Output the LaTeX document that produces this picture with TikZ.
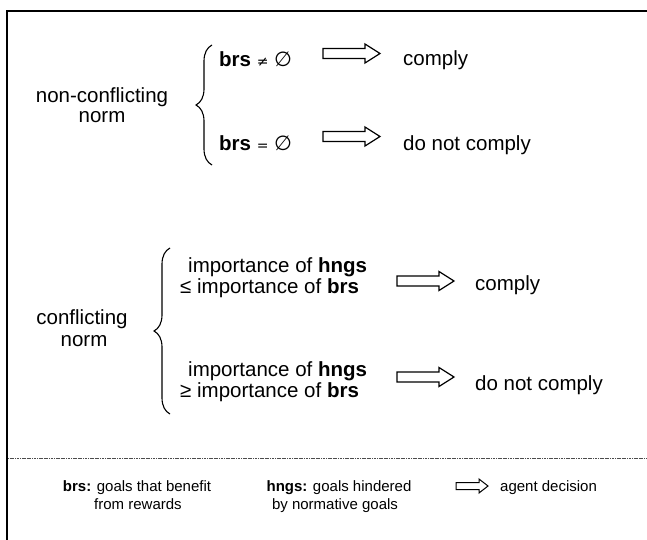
\documentclass[tikz,border=0pt]{standalone}
\usepackage{fontspec}
\setmainfont{Liberation Sans}
\newfontfamily\symfont{DejaVu Sans}
\usetikzlibrary{decorations.pathreplacing}

\begin{document}
\begin{tikzpicture}[x=1pt, y=-1pt,
  frameline/.style={line width=1.3pt},
  sepline/.style={line width=1pt, dash pattern=on 1.2pt off 0.5pt, black!70},
  bigtxt/.style={inner sep=0pt, font=\fontsize{20.5}{20}\selectfont},
  smalltxt/.style={inner sep=0pt, font=\fontsize{15}{15}\selectfont},
  curly/.style={line width=1.1pt, decorate, decoration={brace, amplitude=16pt}},
  decision/.pic={
    \draw[line width=1.2pt, line join=miter]
      (0,-5) -- (42,-5) -- (42,-9.5) -- (57,0) -- (42,9.5) -- (42,5) -- (0,5) -- cycle;
  },
  smalldecision/.pic={
    \draw[line width=1pt, line join=miter]
      (0,-3.5) -- (23,-3.5) -- (23,-7) -- (32,0) -- (23,7) -- (23,3.5) -- (0,3.5) -- cycle;
  }
]
\useasboundingbox (0,0) rectangle (647,540);

% open frame: top and left edges only
\coordinate (frameTR) at (647,11);
\coordinate (frameTL) at (7,11);
\coordinate (frameBL) at (7,540);
\draw[frameline] (frameTR) -- (frameTL) -- (frameBL);

% ---------- non-conflicting norm ----------
\node[bigtxt, anchor=base] (nc1) at (102,103) {non-conflicting};
\node[bigtxt, anchor=base] (nc2) at (102,123) {norm};
\coordinate (b1bot) at (212,165);
\coordinate (b1top) at (212,45);
\draw[curly] (b1bot) -- (b1top);

\node[bigtxt, anchor=base west] (ne) at (219,67) {\textbf{brs} {\symfont\fontsize{14}{14}\selectfont ≠} {\symfont ∅}};
\node[bigtxt, anchor=base west] (eq) at (219,150) {\textbf{brs} {\symfont\fontsize{14}{14}\selectfont =} {\symfont ∅}};
\pic at (323,53.5) {decision};
\pic at (323,136.5) {decision};
\node[bigtxt, anchor=base west] (c1) at (403,66) {comply};
\node[bigtxt, anchor=base west] (d1) at (403,151) {do not comply};

% ---------- conflicting norm ----------
\node[bigtxt, anchor=base] (cf1) at (82,324) {conflicting};
\node[bigtxt, anchor=base] (cf2) at (84,346) {norm};
\coordinate (b2bot) at (170,414);
\coordinate (b2top) at (170,248);
\draw[curly] (b2bot) -- (b2top);

\node[bigtxt, anchor=base west] (le1) at (188,272) {importance of \textbf{hngs}};
\node[bigtxt, anchor=base west] (le2) at (180,293) {≤ importance of \textbf{brs}};
\node[bigtxt, anchor=base west] (ge1) at (188,376) {importance of \textbf{hngs}};
\node[bigtxt, anchor=base west] (ge2) at (180,397) {≥ importance of \textbf{brs}};
\pic at (397,281) {decision};
\pic at (397,377) {decision};
\node[bigtxt, anchor=base west] (c2) at (475,290) {comply};
\node[bigtxt, anchor=base west] (d2) at (475,390) {do not comply};

% ---------- legend ----------
\coordinate (sepL) at (8,458);
\coordinate (sepR) at (647,458);
\draw[sepline] (sepL) -- (sepR);

\node[smalltxt, anchor=base] (lb1) at (137,491) {\textbf{brs:} goals that benefit};
\node[smalltxt, anchor=base] (lb2) at (138,509) {from rewards};
\node[smalltxt, anchor=base] (lh1) at (339,491) {\textbf{hngs:} goals hindered};
\node[smalltxt, anchor=base] (lh2) at (335,509) {by normative goals};
\pic at (456,486) {smalldecision};
\node[smalltxt, anchor=base west] (la) at (500,491) {agent decision};
\end{tikzpicture}
\end{document}
